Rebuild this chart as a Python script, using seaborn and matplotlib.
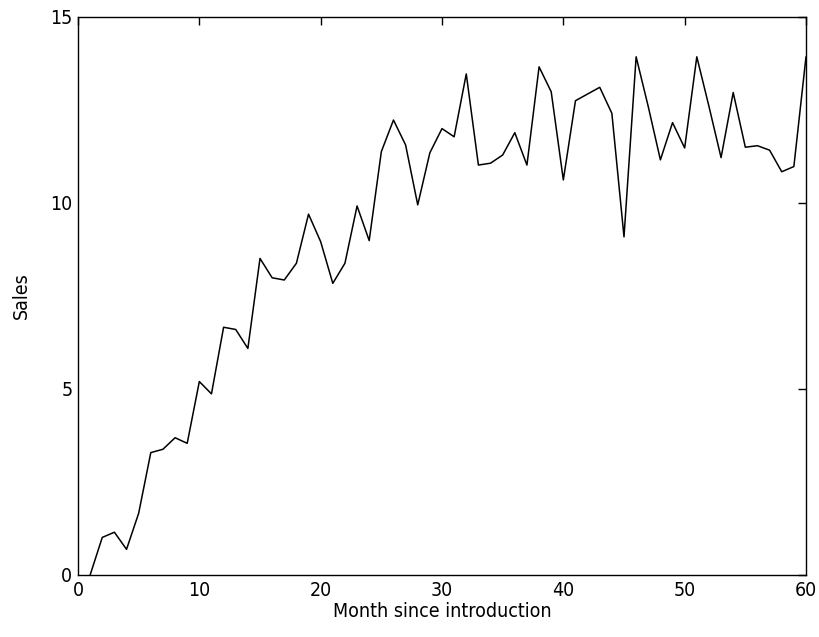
import matplotlib
matplotlib.use("Agg")
import matplotlib.pyplot as plt
import seaborn as sns
import pandas as pd

months = list(range(1, 61))
sales = [0.0, 1.01, 1.15, 0.69, 1.66, 3.29, 3.38, 3.69, 3.54, 5.2,
         4.87, 6.66, 6.6, 6.09, 8.51, 7.99, 7.93, 8.38, 9.7, 8.96,
         7.84, 8.38, 9.92, 8.99, 11.38, 12.23, 11.56, 9.95, 11.35, 12.0,
         11.78, 13.47, 11.02, 11.07, 11.29, 11.89, 11.02, 13.66, 12.99, 10.62,
         12.75, 12.93, 13.11, 12.41, 9.09, 13.93, 12.59, 11.16, 12.16, 11.48,
         13.93, 12.6, 11.22, 12.97, 11.5, 11.54, 11.42, 10.84, 10.98, 13.93]
x_ticks = [0, 10, 20, 30, 40, 50, 60]
y_ticks = [0, 5, 10, 15]

df = pd.DataFrame({"Month since introduction": months, "Sales": sales})

sns.set_theme(style="white")
plt.rcParams["font.family"] = ["DejaVu Sans"]
plt.rcParams["font.stretch"] = "condensed"

fig = plt.figure(figsize=(8.19, 6.37), dpi=100)
ax = fig.add_axes([78/819, 62/637, 728/819, 558/637])
sns.lineplot(data=df, x="Month since introduction", y="Sales", ax=ax,
             color="black", linewidth=1.1)
ax.set_xlim(0, 60)
ax.set_ylim(0, 15)
ax.set_xticks(x_ticks)
ax.set_yticks(y_ticks)
ax.tick_params(direction="in", top=True, right=True, length=6, width=1,
               labelsize=14, colors="black", pad=4)
for s in ax.spines.values():
    s.set_visible(True)
    s.set_color("black")
    s.set_linewidth(1)
ax.set_xlabel("Month since introduction", fontsize=14, color="black", labelpad=2)
ax.set_ylabel("Sales", fontsize=14, color="black", labelpad=14)
fig.savefig("out.png", dpi=100, facecolor="white")
